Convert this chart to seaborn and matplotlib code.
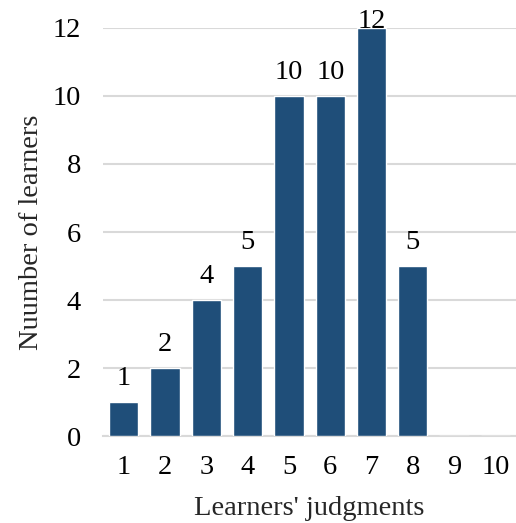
import pandas as pd
import seaborn as sns
import matplotlib.pyplot as plt

# Chart data
judgments = ["1", "2", "3", "4", "5", "6", "7", "8", "9", "10"]
learners = [1, 2, 4, 5, 10, 10, 12, 5, 0, 0]

df = pd.DataFrame({"judgment": judgments, "learners": learners})

sns.set_theme(style="white")
plt.rcParams["font.family"] = ["Liberation Serif", "DejaVu Serif"]

FS = 20.5

fig = plt.figure(figsize=(5.16, 5.23), dpi=100)
ax = fig.add_axes([0.2, 0.1663, 0.8, 0.7802])

sns.barplot(data=df, x="judgment", y="learners", color="#1F4E79",
            saturation=1, width=0.71, ax=ax, zorder=3)

# value labels above the bars (skip zeros), kept inside the top of the chart
for i, v in enumerate(learners):
    if v > 0:
        ax.text(i, min(v + 0.5, 12.0), str(v), ha="center", va="baseline",
                fontsize=FS, color="black", clip_on=False, zorder=4)

ax.set_ylim(0, 12)
ax.set_yticks(range(0, 13, 2))
ax.yaxis.grid(True, color="#D9D9D9", linewidth=1.5, zorder=0)
for side in ["top", "right", "left"]:
    ax.spines[side].set_visible(False)
ax.spines["bottom"].set_color("#D9D9D9")
ax.spines["bottom"].set_linewidth(1.5)

ax.tick_params(axis="both", length=0, labelsize=FS, colors="black")
ax.tick_params(axis="x", pad=14)
ax.tick_params(axis="y", pad=16)

ax.set_xlabel("Learners' judgments", fontsize=FS, labelpad=11)
ax.set_ylabel("Nuumber of learners", fontsize=FS, labelpad=6)

plt.savefig("out.png", dpi=100)
